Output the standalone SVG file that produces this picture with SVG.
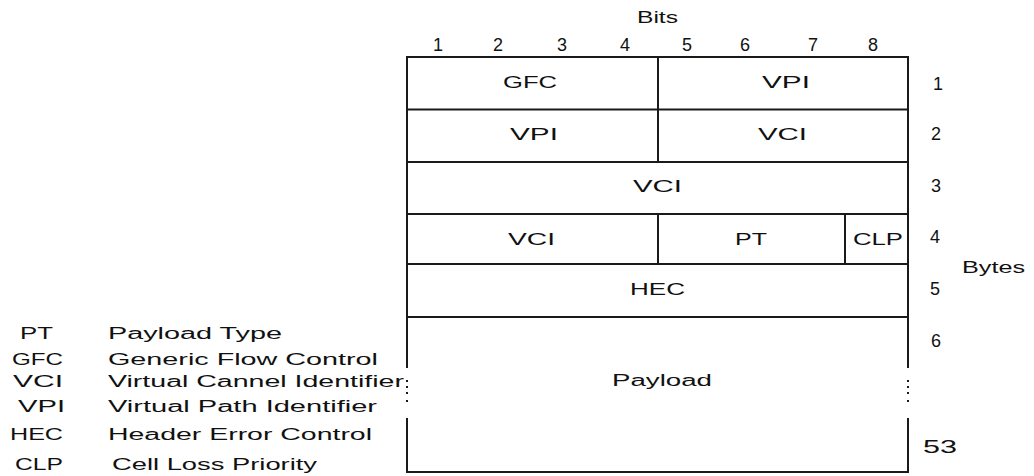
<svg xmlns="http://www.w3.org/2000/svg" width="1034" height="476" viewBox="0 0 1034 476">
<style>
text{font-family:"Liberation Sans",Arial,sans-serif;font-size:16px;fill:#111}
.n{font-size:18px}
.ln{stroke:#1a1a1a;stroke-width:2;fill:none}
.dot{fill:#1a1a1a}
</style>
<rect width="1034" height="476" fill="#fff"/>
<g id="header-labels">
<text x="637" y="23" textLength="41" lengthAdjust="spacingAndGlyphs">Bits</text>
<text class="n" x="433" y="51">1</text>
<text class="n" x="493" y="51">2</text>
<text class="n" x="557" y="51">3</text>
<text class="n" x="620" y="51">4</text>
<text class="n" x="682" y="51">5</text>
<text class="n" x="740" y="51">6</text>
<text class="n" x="808" y="51">7</text>
<text class="n" x="868" y="51">8</text>
</g>
<g id="connectors">
<path class="ln" d="M407,57 H908 M407,109.5 H908 M407,162 H908 M407,214 H908 M407,264 H908 M407,317 H908 M407,472 H908"/>
<path class="ln" d="M407,56 V368 M407,418 V473 M908,56 V368 M908,418 V473"/>
<path class="ln" d="M658,57 V162 M658,214 V264 M845,214 V264"/>
<g class="dot">
<rect x="406" y="380" width="2" height="2"/><rect x="406" y="386" width="2" height="2"/><rect x="406" y="392" width="2" height="2"/><rect x="406" y="400" width="2" height="2"/>
<rect x="907" y="380" width="2" height="2"/><rect x="907" y="386" width="2" height="2"/><rect x="907" y="392" width="2" height="2"/><rect x="907" y="400" width="2" height="2"/>
</g>
</g>
<g id="row1">
<text x="503" y="88" textLength="54" lengthAdjust="spacingAndGlyphs">GFC</text>
<text x="762" y="88" textLength="48" lengthAdjust="spacingAndGlyphs">VPI</text>
</g>
<g id="row2">
<text x="510" y="140" textLength="48" lengthAdjust="spacingAndGlyphs">VPI</text>
<text x="758" y="140" textLength="49" lengthAdjust="spacingAndGlyphs">VCI</text>
</g>
<g id="row3">
<text x="633" y="192" textLength="49" lengthAdjust="spacingAndGlyphs">VCI</text>
</g>
<g id="row4">
<text x="508" y="245" textLength="47" lengthAdjust="spacingAndGlyphs">VCI</text>
<text x="735" y="245" textLength="32" lengthAdjust="spacingAndGlyphs">PT</text>
<text x="853" y="245" textLength="50" lengthAdjust="spacingAndGlyphs">CLP</text>
</g>
<g id="row5">
<text x="630" y="295" textLength="55" lengthAdjust="spacingAndGlyphs">HEC</text>
</g>
<g id="payload">
<text x="612" y="386" textLength="100" lengthAdjust="spacingAndGlyphs">Payload</text>
</g>
<g id="byte-labels">
<text class="n" x="933" y="90">1</text>
<text class="n" x="931" y="140">2</text>
<text class="n" x="931" y="192">3</text>
<text class="n" x="930" y="243">4</text>
<text x="962" y="273" textLength="63" lengthAdjust="spacingAndGlyphs">Bytes</text>
<text class="n" x="930" y="295">5</text>
<text class="n" x="931" y="347">6</text>
<text class="n" x="923" y="453" textLength="34" lengthAdjust="spacingAndGlyphs">53</text>
</g>
<g id="legend">
<text x="20" y="339" textLength="33" lengthAdjust="spacingAndGlyphs">PT</text>
<text x="108" y="339" textLength="174" lengthAdjust="spacingAndGlyphs">Payload Type</text>
<text x="12" y="365" textLength="51" lengthAdjust="spacingAndGlyphs">GFC</text>
<text x="108" y="365" textLength="270" lengthAdjust="spacingAndGlyphs">Generic Flow Control</text>
<text x="13" y="387" textLength="50" lengthAdjust="spacingAndGlyphs">VCI</text>
<text x="108" y="387" textLength="296" lengthAdjust="spacingAndGlyphs">Virtual Cannel Identifier</text>
<text x="18" y="412" textLength="47" lengthAdjust="spacingAndGlyphs">VPI</text>
<text x="108" y="412" textLength="269" lengthAdjust="spacingAndGlyphs">Virtual Path Identifier</text>
<text x="10" y="440" textLength="53" lengthAdjust="spacingAndGlyphs">HEC</text>
<text x="108" y="440" textLength="264" lengthAdjust="spacingAndGlyphs">Header Error Control</text>
<text x="15" y="470" textLength="48" lengthAdjust="spacingAndGlyphs">CLP</text>
<text x="112" y="470" textLength="205" lengthAdjust="spacingAndGlyphs">Cell Loss Priority</text>
</g>
</svg>
